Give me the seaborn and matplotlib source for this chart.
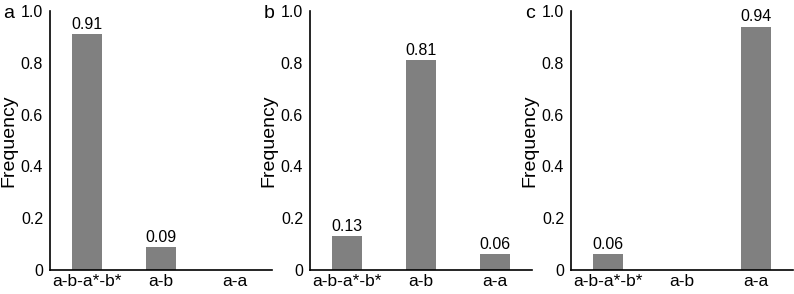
import matplotlib
matplotlib.use("Agg")
import matplotlib.pyplot as plt
import seaborn as sns
import pandas as pd
from matplotlib.ticker import FuncFormatter

categories = ["a-b-a*-b*", "a-b", "a-a"]
panel_labels = ["a", "b", "c"]
values_a = [0.91, 0.09, 0.0]
values_b = [0.13, 0.81, 0.06]
values_c = [0.06, 0.0, 0.94]
y_ticks = [0, 0.2, 0.4, 0.6, 0.8, 1.0]

rows = []
for p, vals in zip(panel_labels, [values_a, values_b, values_c]):
    for c, v in zip(categories, vals):
        rows.append({"panel": p, "pattern": c, "frequency": v})
df = pd.DataFrame(rows)

sns.set_theme(style="white")
plt.rcParams["font.family"] = ["Liberation Sans", "DejaVu Sans"]

W, H = 794, 294
fig = plt.figure(figsize=(W / 100, H / 100), dpi=100)

lefts = [50, 310, 571]
ax_w = 222
bottom_px, top_px = 270, 11
bar_color = "#808080"

for p, lx in zip(panel_labels, lefts):
    ax = fig.add_axes([lx / W, 1 - bottom_px / H, ax_w / W, (bottom_px - top_px) / H])
    sub = df[df["panel"] == p]
    sns.barplot(data=sub, x="pattern", y="frequency", order=categories,
                color=bar_color, width=0.4, errorbar=None, ax=ax,
                saturation=1, edgecolor="none")
    ax.set_xlim(-0.5, 2.5)
    ax.set_ylim(0, 1.0)
    ax.set_yticks(y_ticks)
    ax.yaxis.set_major_formatter(FuncFormatter(lambda v, pos: "0" if v == 0 else f"{v:.1f}"))
    ax.tick_params(axis="y", which="major", length=0, labelsize=11.5, pad=5, colors="black")
    ax.tick_params(axis="x", which="major", length=0, labelsize=12.5, pad=3, colors="black")
    # spine end caps
    ax.set_yticks([1.0], minor=True)
    ax.set_xticks([2.5], minor=True)
    ax.tick_params(axis="both", which="minor", direction="in", length=5, width=1.2, color="black")
    for s in ["top", "right"]:
        ax.spines[s].set_visible(False)
    for s in ["left", "bottom"]:
        ax.spines[s].set_color("black")
        ax.spines[s].set_linewidth(1.2)
    ax.set_xlabel("")
    ax.set_ylabel("Frequency", fontsize=14, color="black")
    ax.yaxis.label.set_va("center")
    ax.yaxis.set_label_coords(-41 / ax_w, 0.5)
    vals = sub["frequency"].tolist()
    labels = [f"{v:.2f}" if v > 0 else "" for v in vals]
    ax.bar_label(ax.containers[0], labels=labels, padding=1.5, fontsize=11.5, color="black")
    fig.text((lx - 41) / W, 1 - 13 / H, p, fontsize=14, ha="center", va="center", color="black")

fig.savefig("out.png", dpi=100)
